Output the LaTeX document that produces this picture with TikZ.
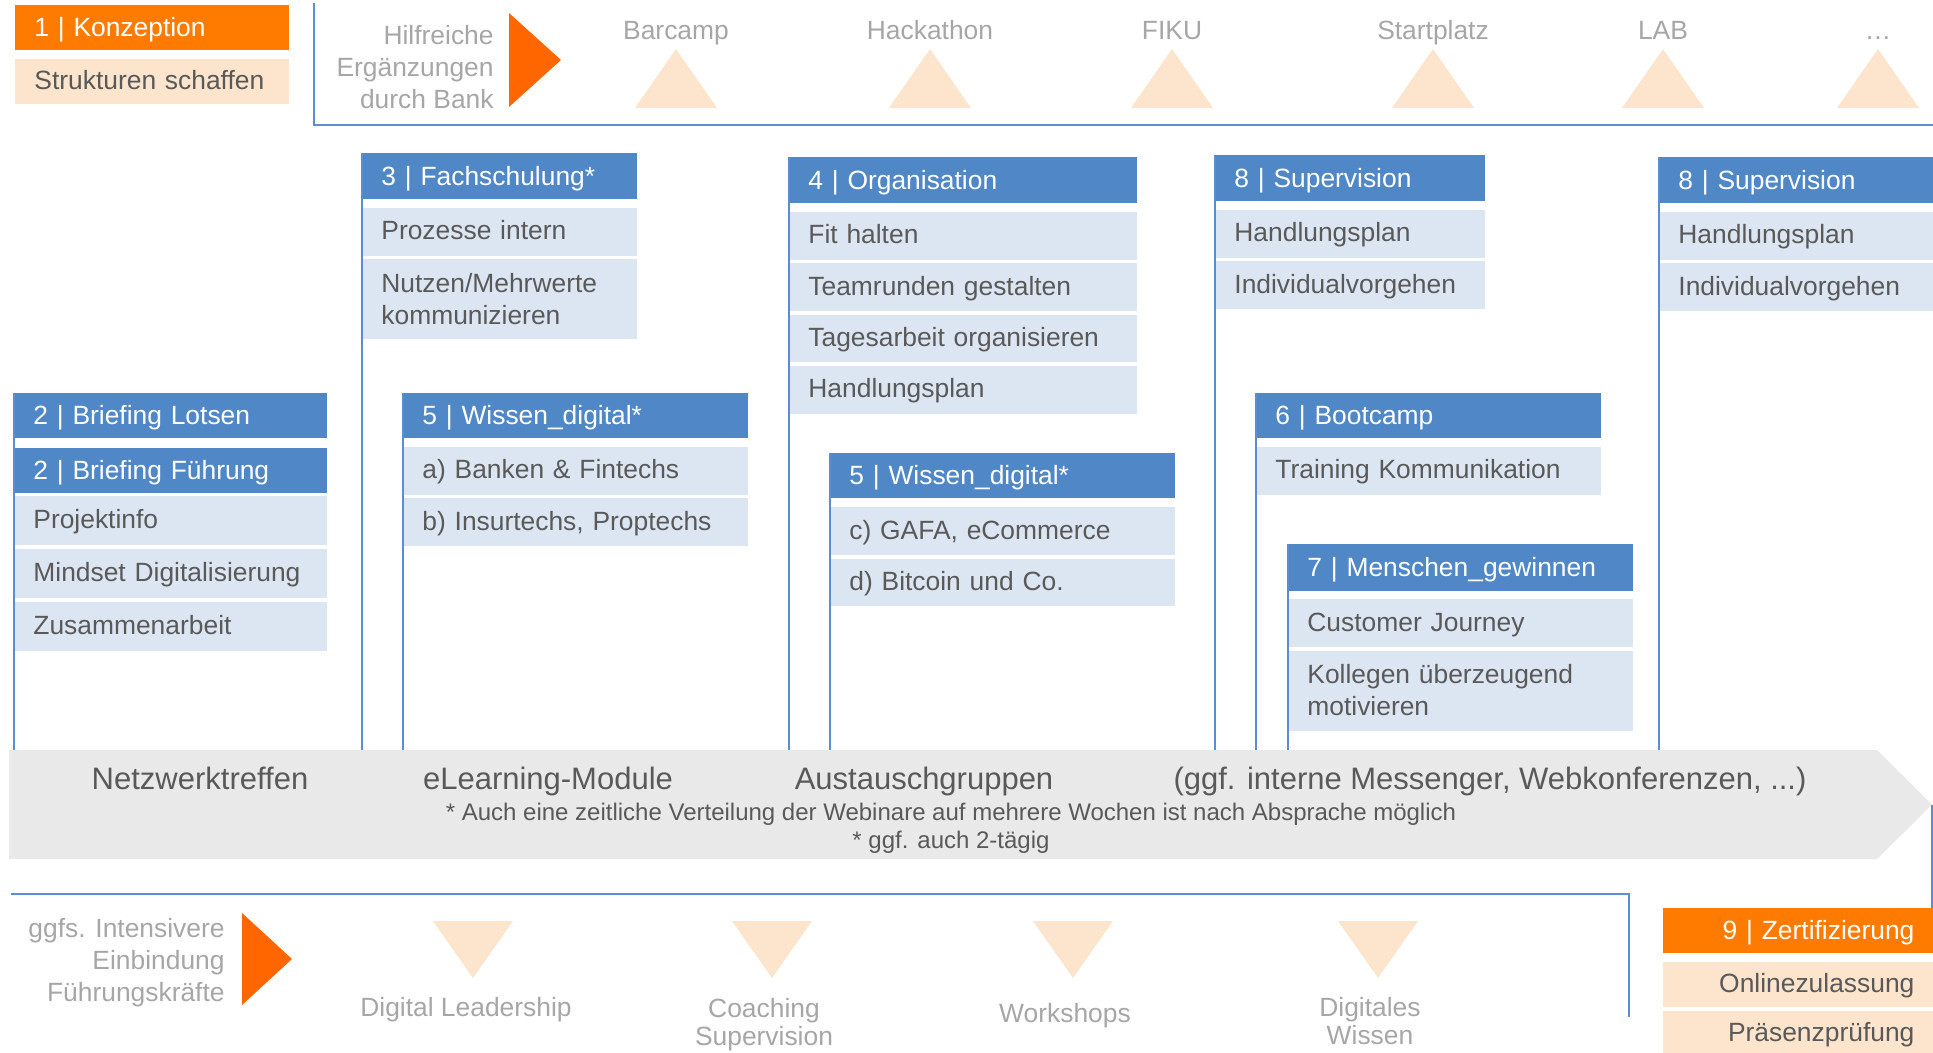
\documentclass[tikz,border=0pt]{standalone}
\usepackage{fontspec}
\setmainfont{Liberation Sans}
\usetikzlibrary{positioning}

\definecolor{hdblue}{HTML}{5087C7}
\definecolor{cellblue}{HTML}{DCE6F2}
\definecolor{korange}{HTML}{FF7B00}
\definecolor{tipred}{HTML}{FF6600}
\definecolor{peach}{HTML}{FDE4CC}
\definecolor{darktext}{HTML}{595959}
\definecolor{lighttext}{HTML}{A6A6A6}
\definecolor{bargray}{HTML}{E9E9E9}
\definecolor{lineblue}{HTML}{5B8DD3}

\newcommand\boxfont{\fontsize{13.2}{16}\selectfont}
\newcommand\barfont{\fontsize{15.5}{18}\selectfont}
\newcommand\notefont{\fontsize{12}{14}\selectfont}
\newcommand\twofont{\fontsize{13.2}{14.2}\selectfont}

\tikzset{
    hd/.style={fill=hdblue, text=white, anchor=north west, inner xsep=9.5pt, inner ysep=0pt, minimum height=22.5pt, align=left, font=\boxfont, text height=10.4pt, text depth=1.35pt},
    ohd/.style={hd, fill=korange},
    cell/.style={hd, fill=cellblue, text=darktext, minimum height=23.75pt, text height=9.4pt},
    pcell/.style={cell, fill=peach},
    twoline/.style={text height=10.4pt, text depth=17.35pt, minimum height=40pt},
    lbl/.style={text=lighttext, font=\boxfont, inner sep=0pt},
    bartxt/.style={text=darktext, font=\barfont, inner sep=0pt, anchor=base},
    notetxt/.style={text=darktext, font=\notefont, inner sep=0pt, anchor=base},
    colline/.style={draw=lineblue, line width=0.75pt},
    brline/.style={draw=lineblue, line width=1pt},
}

\begin{document}
\begin{tikzpicture}[x=0.5pt, y=-0.5pt]
        \useasboundingbox (0,0) rectangle (1933,1053);

        \coordinate (bartop) at (0,750);
        \coordinate (tip) at (1932,804.5);
        \fill[bargray] (9,750) -- (1877,750) -- (tip) -- (1877,859) -- (9,859) -- cycle;

        \node[ohd, text width=118pt] (konz) at (15,5) {1 | Konzeption};
        \node[pcell, text width=118pt, minimum height=22.5pt, below=4pt of konz] (konz1) {Strukturen schaffen};

        \draw[brline] (314,3) -- (314,125) -- (1933,125);
        \node[lbl, align=right, anchor=north east] (hilf) at (494,25) {Hilfreiche\\Ergänzungen\\durch Bank};
        \fill[tipred] (509,13) -- (561,60) -- (509,107) -- cycle;
        \foreach \x/\name/\txt in {676/barc/Barcamp, 930/hack/Hackathon, 1172/fiku/FIKU, 1433/start/Startplatz, 1663/lab/LAB, 1878/more/…}{
            \fill[peach] (\x-41,108) -- (\x,49) -- (\x+41,108) -- cycle;
            \node[lbl, anchor=base] (\name) at (\x,40) {\txt};
        }

        \node[hd, text width=137.5pt] (lots) at (14,393) {2 | Briefing Lotsen};
        \node[hd, text width=137.5pt, below=4.5pt of lots] (fuehr) {2 | Briefing Führung};
        \node[cell, text width=137.5pt, minimum height=24.5pt, below=1pt of fuehr] (proj) {Projektinfo};
        \node[cell, text width=137.5pt, minimum height=24.5pt, below=1.5pt of proj] (mind) {Mindset Digitalisierung};
        \node[cell, text width=137.5pt, minimum height=24.5pt, below=1.5pt of mind] (zus) {Zusammenarbeit};

        \node[hd, text width=118.5pt, minimum height=23pt] (fach) at (362,153) {3 | Fachschulung*};
        \node[cell, text width=118.5pt, below=4pt of fach] (fach1) {Prozesse intern};
        \node[cell, twoline, text width=118.5pt, below=1.5pt of fach1] (fach2) {Nutzen/Mehrwerte\\kommunizieren};

        \node[hd, text width=153.5pt] (wis1) at (403,393) {5 | Wissen\_digital*};
        \node[cell, text width=153.5pt, below=4pt of wis1] (wis1a) {a) Banken \& Fintechs};
        \node[cell, text width=153.5pt, below=1.5pt of wis1a] (wis1b) {b) Insurtechs, Proptechs};

        \node[hd, text width=155pt, minimum height=23pt] (orga) at (789,157) {4 | Organisation};
        \node[cell, text width=155pt, below=4pt of orga] (orga1) {Fit halten};
        \node[cell, text width=155pt, below=1.5pt of orga1] (orga2) {Teamrunden gestalten};
        \node[cell, text width=155pt, below=1.5pt of orga2] (orga3) {Tagesarbeit organisieren};
        \node[cell, text width=155pt, below=1.5pt of orga3] (orga4) {Handlungsplan};

        \node[hd, text width=153.5pt] (wis2) at (830,453) {5 | Wissen\_digital*};
        \node[cell, text width=153.5pt, below=4pt of wis2] (wis2c) {c) GAFA, eCommerce};
        \node[cell, text width=153.5pt, below=1.5pt of wis2c] (wis2d) {d) Bitcoin und Co.};

        \node[hd, text width=116pt, minimum height=23pt] (sup1) at (1215,155) {8 | Supervision};
        \node[cell, text width=116pt, below=4pt of sup1] (sup1a) {Handlungsplan};
        \node[cell, text width=116pt, below=1.5pt of sup1a] (sup1b) {Individualvorgehen};

        \node[hd, text width=153.5pt] (boot) at (1256,393) {6 | Bootcamp};
        \node[cell, text width=153.5pt, below=4pt of boot] (boot1) {Training Kommunikation};

        \node[hd, text width=153.5pt, minimum height=23.5pt] (mensch) at (1288,544) {7 | Menschen\_gewinnen};
        \node[cell, text width=153.5pt, below=3.5pt of mensch] (mensch1) {Customer Journey};
        \node[cell, twoline, text width=153.5pt, below=1.5pt of mensch1] (mensch2) {Kollegen überzeugend\\motivieren};

        \node[hd, text width=118pt, minimum height=23pt] (sup2) at (1659,157) {8 | Supervision};
        \node[cell, text width=118pt, below=4pt of sup2] (sup2a) {Handlungsplan};
        \node[cell, text width=118pt, below=1.5pt of sup2a] (sup2b) {Individualvorgehen};

        \foreach \n in {lots, fach, wis1, orga, wis2, sup1, boot, mensch, sup2}
            \draw[colline] (\n.north west) -- (\n.north west |- bartop);

        \node[bartxt] (netz) at (200,789) {Netzwerktreffen};
        \node[bartxt] (elearn) at (548,789) {eLearning-Module};
        \node[bartxt] (aust) at (924,789) {Austauschgruppen};
        \node[bartxt] (mess) at (1490,789) {(ggf. interne Messenger, Webkonferenzen, ...)};
        \node[notetxt] (note1) at (951,820) {* Auch eine zeitliche Verteilung der Webinare auf mehrere Wochen ist nach Absprache möglich};
        \node[notetxt] (note2) at (951,848) {* ggf. auch 2-tägig};

        \draw[brline] (11,894) -- (1629,894) -- (1629,1017);
        \node[lbl, align=right, anchor=north east] (einb) at (225,918) {ggfs. Intensivere\\Einbindung\\Führungskräfte};
        \fill[tipred] (242,913) -- (292,959) -- (242,1005) -- cycle;
        \foreach \x in {473, 772, 1073, 1378}
            \fill[peach] (\x-40,921) -- (\x+40,921) -- (\x,978) -- cycle;
        \node[lbl, anchor=base] (lead) at (466,1016) {Digital Leadership};
        \node[lbl, font=\twofont, align=center, anchor=north] (coach) at (764,998) {Coaching\\Supervision};
        \node[lbl, anchor=base] (work) at (1065,1022) {Workshops};
        \node[lbl, font=\twofont, align=center, anchor=north] (digw) at (1370,997) {Digitales\\Wissen};

        \node[ohd, align=right, text width=116pt] (zert) at (1663,908) {9 | Zertifizierung};
        \node[pcell, align=right, text width=116pt, minimum height=22.5pt, below=4pt of zert] (zert1) {Onlinezulassung};
        \node[pcell, align=right, text width=116pt, minimum height=22pt, below=1.5pt of zert1] (zert2) {Präsenzprüfung};
        \draw[colline] (tip) -- (tip |- zert.north);
    \end{tikzpicture}
\end{document}
